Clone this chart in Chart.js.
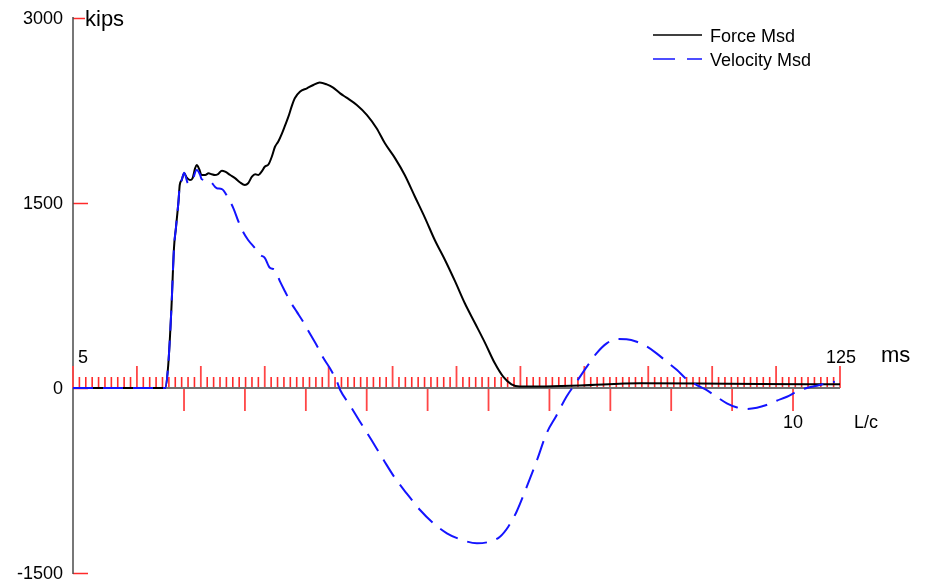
<!DOCTYPE html>
<html>
<head>
<meta charset="utf-8">
<title>Force and Velocity Measured</title>
<script src="https://cdn.jsdelivr.net/npm/chart.js@4/dist/chart.umd.min.js"></script>
<style>
  html, body { margin: 0; padding: 0; background: #ffffff; }
  canvas { display: block; }
</style>
</head>
<body>
<canvas id="pda" width="934" height="587"></canvas>
<script>
// Time window (ms) and force range (kips)
const timeMin = 5;
const timeMax = 125;
const kipsMin = -1500;
const kipsMax = 3000;

// Y axis labels (kips)
const yTickValues = [-1500, 0, 1500, 3000];

// Time ticks (ms): minor every 1 ms, major every 10 ms
const minorStep = 1;
const majorStep = 10;

// L/c marks below the time axis and the one that carries a label
const lcTickTimes = [22.37, 31.90, 41.43, 50.95, 60.48, 70.01, 79.54, 89.07, 98.59, 108.12, 117.65];
const lcLabelIndex = 10;
const lcLabelText = '10';

// Measured force (kips) against time (ms)
const forceTime = [5.0, 19.1, 19.4, 19.9, 20.4, 20.8, 21.1, 21.5, 21.7, 22.0,
  22.4, 22.8, 23.3, 23.7, 24.1, 24.35, 24.8, 25.1, 25.7, 26.2,
  26.7, 27.2, 27.7, 28.3, 28.8, 29.6, 30.4, 31.1, 31.9, 32.4,
  33.0, 33.5, 34.0, 34.5, 35.0, 35.6, 36.1, 36.6, 37.1, 37.7,
  38.2, 38.7, 39.2, 39.7, 40.5, 41.6, 42.6, 43.6, 44.7, 45.7,
  46.8, 47.8, 49.4, 51.0, 52.5, 53.8, 55.4, 56.9, 58.5, 60.1,
  61.6, 63.2, 64.8, 66.3, 67.9, 69.5, 71.0, 72.3, 73.6, 74.9,
  78.1, 84.3, 93.7, 103.1, 112.5, 125.0];
const forceKips = [0, 0, 0, 186, 649, 1135, 1297, 1511, 1646, 1686,
  1741, 1705, 1686, 1700, 1781, 1808, 1768, 1727, 1727, 1741,
  1733, 1727, 1735, 1762, 1754, 1727, 1700, 1668, 1646, 1660,
  1713, 1733, 1727, 1754, 1794, 1814, 1875, 1956, 1997, 2065,
  2132, 2200, 2281, 2349, 2402, 2430, 2457, 2477, 2462, 2436,
  2389, 2354, 2295, 2213, 2106, 1984, 1862, 1727, 1551, 1376,
  1200, 1038, 862, 687, 525, 362, 200, 92, 30, 12,
  12, 20, 38, 36, 32, 30];

// Measured velocity (as force, kips) against time (ms)
const velTime = [5.0, 19.1, 19.4, 19.9, 20.4, 20.8, 21.1, 21.5, 21.7, 22.0,
  22.4, 23.0, 23.6, 24.35, 24.9, 25.1, 26.4, 27.2, 27.5, 28.3,
  29.3, 30.1, 30.9, 31.6, 32.4, 33.5, 34.3, 35.0, 35.8, 36.6,
  37.4, 38.2, 39.0, 40.0, 41.0, 42.1, 43.1, 44.2, 45.2, 46.3,
  46.8, 48.3, 49.9, 51.7, 53.6, 55.4, 57.2, 59.3, 61.4, 63.5,
  65.6, 68.2, 70.2, 71.8, 73.1, 74.4, 76.0, 77.6, 79.1, 80.6,
  82.2, 83.8, 85.4, 86.9, 88.5, 90.1, 91.6, 93.2, 94.8, 96.3,
  97.9, 99.5, 101.0, 102.6, 104.1, 105.7, 107.3, 108.8, 110.4, 112.0,
  113.5, 115.1, 116.7, 118.2, 119.8, 121.4, 122.9, 124.2];
const velKips = [0, 0, 0, 186, 649, 1135, 1297, 1511, 1646, 1686,
  1746, 1660, 1673, 1768, 1727, 1695, 1678, 1632, 1619, 1613,
  1538, 1457, 1348, 1267, 1200, 1133, 1078, 1056, 975, 957,
  862, 781, 700, 619, 538, 438, 349, 241, 160, 51,
  -16, -138, -273, -422, -584, -732, -854, -989, -1097, -1178,
  -1227, -1259, -1246, -1206, -1125, -1003, -800, -584, -367, -227,
  -71, 51, 173, 281, 362, 397, 395, 375, 335, 281,
  213, 146, 71, 24, -16, -71, -124, -156, -170, -160,
  -138, -103, -71, -30, 0, 19, 38, 51];

const seriesNames = ['Force Msd', 'Velocity Msd'];
const yUnit = 'kips';
const xUnit = 'ms';
const lcUnit = 'L/c';

const FONT = '"Liberation Sans", Arial, Helvetica, sans-serif';
const FORCE_COLOR = '#000000';
const VEL_COLOR = '#1414ff';
const TICK_RED = '#ff2a2a';

const toPoints = (xs, ys) => xs.map((t, i) => ({ x: t, y: ys[i] }));

// Axes, ticks, unit labels and legend drawn with the chart's own scales
const pdaAxes = {
  id: 'pdaAxes',
  beforeDatasetsDraw(chart) {
    const { ctx } = chart;
    const xs = chart.scales.x;
    const ys = chart.scales.y;
    const xLeft = Math.round(xs.getPixelForValue(timeMin));
    const y0 = Math.round(ys.getPixelForValue(0));
    ctx.save();
    ctx.setLineDash([]);

    // y ticks (red, pointing right)
    ctx.strokeStyle = TICK_RED;
    ctx.lineWidth = 1.5;
    yTickValues.forEach(v => {
      const py = Math.round(ys.getPixelForValue(v)) + 0.5;
      const len = v === kipsMax ? 12 : 15;
      ctx.beginPath();
      ctx.moveTo(xLeft, py);
      ctx.lineTo(xLeft + len, py);
      ctx.stroke();
    });

    // y axis line
    ctx.strokeStyle = '#4a4a4a';
    ctx.lineWidth = 1.5;
    ctx.beginPath();
    ctx.moveTo(xLeft, ys.getPixelForValue(kipsMax) - 1);
    ctx.lineTo(xLeft, ys.getPixelForValue(kipsMin) + 1);
    ctx.stroke();

    // minor time ticks
    ctx.strokeStyle = TICK_RED;
    ctx.lineWidth = 1.6;
    for (let t = timeMin + minorStep; t < timeMax; t += minorStep) {
      if ((t - timeMin) % majorStep === 0) continue;
      const px = xs.getPixelForValue(t);
      ctx.beginPath();
      ctx.moveTo(px, y0);
      ctx.lineTo(px, y0 - 11);
      ctx.stroke();
    }

    // major time ticks
    ctx.strokeStyle = '#ff4646';
    ctx.lineWidth = 1.8;
    for (let t = timeMin; t <= timeMax; t += majorStep) {
      const px = xs.getPixelForValue(t);
      ctx.beginPath();
      ctx.moveTo(px, y0);
      ctx.lineTo(px, y0 - 22);
      ctx.stroke();
    }

    // L/c marks below the axis
    lcTickTimes.forEach(t => {
      const px = xs.getPixelForValue(t);
      ctx.beginPath();
      ctx.moveTo(px, y0);
      ctx.lineTo(px, y0 + 23);
      ctx.stroke();
    });

    // time axis line
    ctx.strokeStyle = '#707070';
    ctx.lineWidth = 2;
    ctx.beginPath();
    ctx.moveTo(xLeft, y0);
    ctx.lineTo(xs.getPixelForValue(timeMax), y0);
    ctx.stroke();

    ctx.restore();
  },
  afterDraw(chart) {
    const { ctx } = chart;
    const xs = chart.scales.x;
    const ys = chart.scales.y;
    const xLeft = xs.getPixelForValue(timeMin);
    const xRight = xs.getPixelForValue(timeMax);
    const y0 = ys.getPixelForValue(0);
    ctx.save();
    ctx.setLineDash([]);
    ctx.fillStyle = '#000000';

    // y labels
    ctx.font = '18px ' + FONT;
    ctx.textAlign = 'right';
    ctx.textBaseline = 'middle';
    yTickValues.forEach(v => {
      ctx.fillText(String(v), xLeft - 10, ys.getPixelForValue(v) + 1);
    });

    ctx.textBaseline = 'alphabetic';
    ctx.textAlign = 'left';
    ctx.font = '22px ' + FONT;
    ctx.fillText(yUnit, xLeft + 12, ys.getPixelForValue(kipsMax) + 8);

    // time axis end labels and unit
    ctx.font = '18px ' + FONT;
    ctx.fillText(String(timeMin), xLeft + 5, y0 - 25);
    ctx.textAlign = 'center';
    ctx.fillText(String(timeMax), xRight + 1, y0 - 25);
    ctx.textAlign = 'left';
    ctx.font = '22px ' + FONT;
    ctx.fillText(xUnit, xRight + 41, y0 - 26);

    // L/c label
    ctx.font = '18px ' + FONT;
    ctx.textAlign = 'center';
    ctx.fillText(lcLabelText, xs.getPixelForValue(lcTickTimes[lcLabelIndex]), y0 + 40);
    ctx.textAlign = 'left';
    ctx.fillText(lcUnit, xRight + 14, y0 + 40);

    // legend
    const lx0 = 653, lx1 = 702, ly = [35, 59];
    ctx.lineWidth = 1.6;
    ctx.strokeStyle = FORCE_COLOR;
    ctx.beginPath();
    ctx.moveTo(lx0, ly[0]);
    ctx.lineTo(lx1, ly[0]);
    ctx.stroke();
    ctx.strokeStyle = VEL_COLOR;
    ctx.setLineDash([22, 12]);
    ctx.beginPath();
    ctx.moveTo(lx0, ly[1]);
    ctx.lineTo(lx1, ly[1]);
    ctx.stroke();
    ctx.setLineDash([]);
    ctx.font = '18px ' + FONT;
    ctx.fillStyle = '#000000';
    ctx.fillText(seriesNames[0], 710, ly[0] + 7);
    ctx.fillText(seriesNames[1], 710, ly[1] + 7);

    ctx.restore();
  }
};

new Chart(document.getElementById('pda'), {
  type: 'line',
  data: {
    datasets: [
      {
        label: seriesNames[1],
        data: toPoints(velTime, velKips),
        borderColor: VEL_COLOR,
        borderWidth: 2,
        borderDash: [20, 10],
        pointRadius: 0,
        fill: false,
        cubicInterpolationMode: 'monotone',
        order: 0
      },
      {
        label: seriesNames[0],
        data: toPoints(forceTime, forceKips),
        borderColor: FORCE_COLOR,
        borderWidth: 2,
        pointRadius: 0,
        fill: false,
        cubicInterpolationMode: 'monotone',
        order: 1
      }
    ]
  },
  options: {
    responsive: false,
    animation: false,
    events: [],
    layout: { padding: { left: 73, right: 94, top: 18, bottom: 14 } },
    scales: {
      x: { type: 'linear', min: timeMin, max: timeMax, display: false },
      y: { type: 'linear', min: kipsMin, max: kipsMax, display: false }
    },
    plugins: {
      legend: { display: false },
      tooltip: { enabled: false }
    }
  },
  plugins: [pdaAxes]
});
</script>
</body>
</html>
